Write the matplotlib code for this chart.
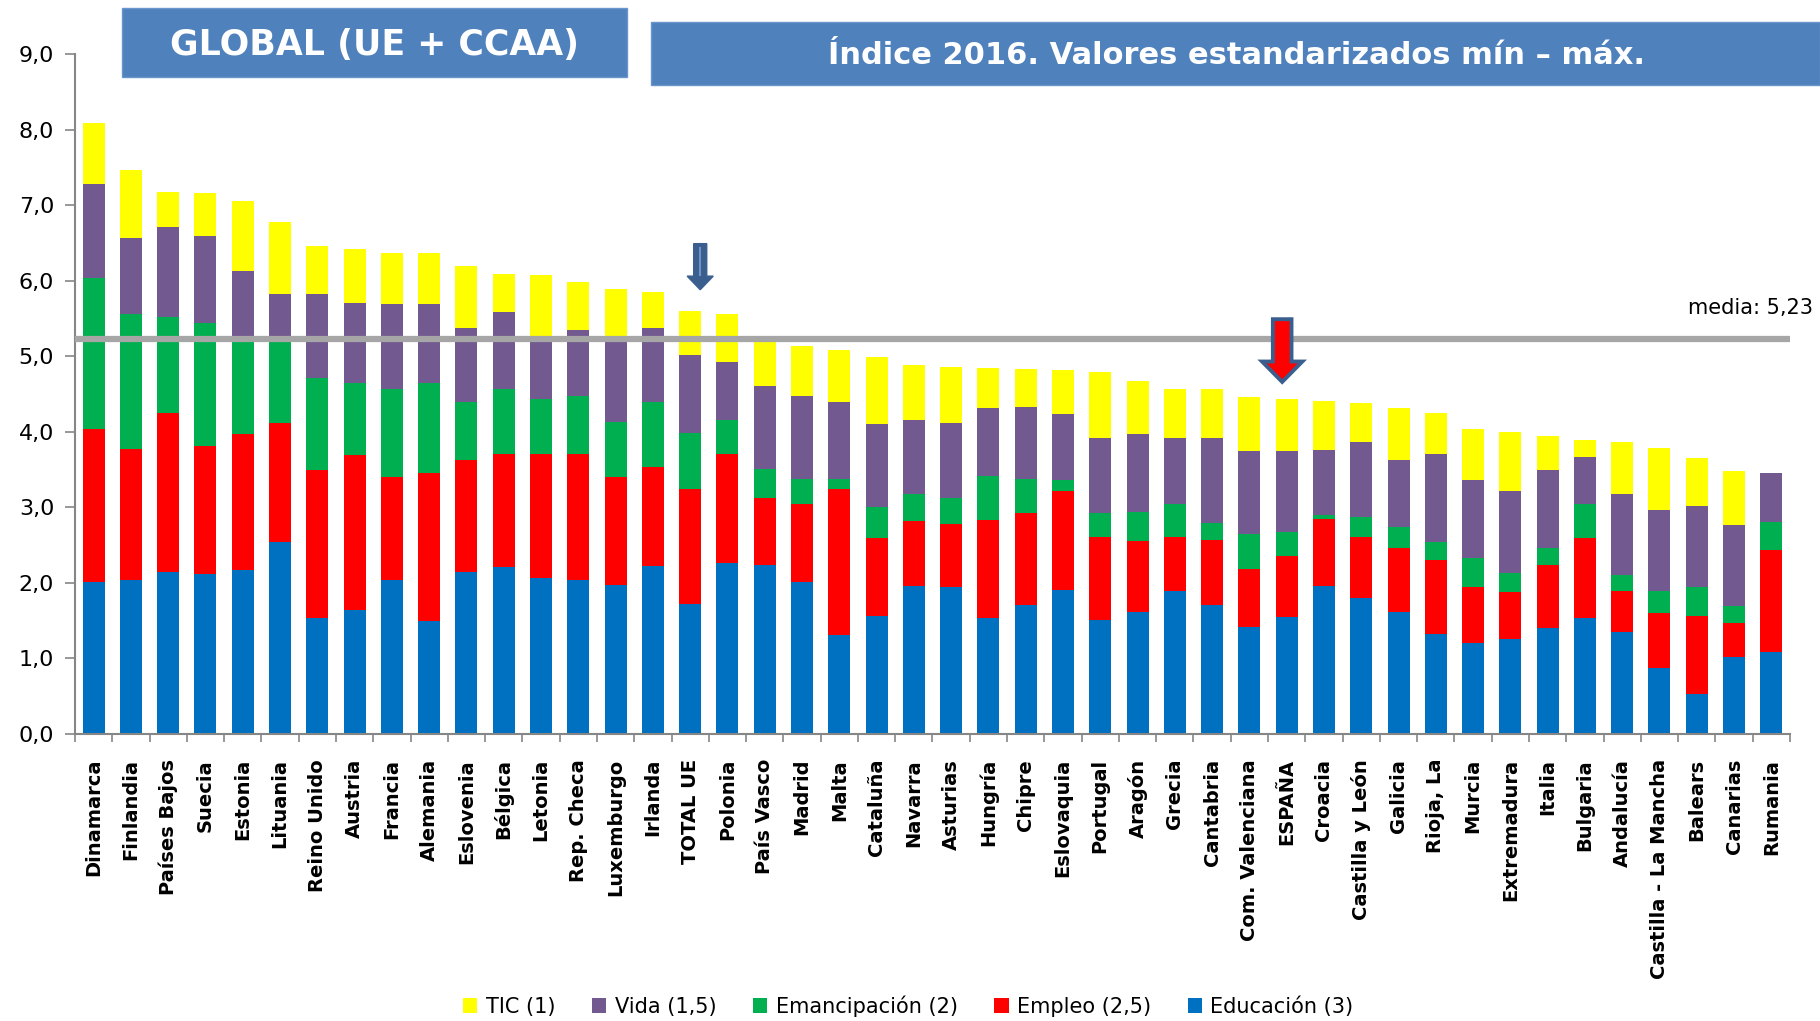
#!/usr/bin/env python3
"""Indice 2016 - stacked bars, UE countries + Spanish regions (CCAA)."""

import matplotlib
matplotlib.use("Agg")
import matplotlib.pyplot as plt
from matplotlib.patches import Rectangle, FancyArrow, Patch
from matplotlib.ticker import FuncFormatter, MultipleLocator
import numpy as np

categories = [
    "Dinamarca", "Finlandia", "Países Bajos", "Suecia", "Estonia", "Lituania",
    "Reino Unido", "Austria", "Francia", "Alemania", "Eslovenia", "Bélgica",
    "Letonia", "Rep. Checa", "Luxemburgo", "Irlanda", "TOTAL UE", "Polonia",
    "País Vasco", "Madrid", "Malta", "Cataluña", "Navarra", "Asturias",
    "Hungría", "Chipre", "Eslovaquia", "Portugal", "Aragón", "Grecia",
    "Cantabria", "Com. Valenciana", "ESPAÑA", "Croacia", "Castilla y León",
    "Galicia", "Rioja, La", "Murcia", "Extremadura", "Italia", "Bulgaria",
    "Andalucía", "Castilla - La Mancha", "Balears", "Canarias", "Rumania",
]

educacion = [2.01, 2.04, 2.15, 2.12, 2.17, 2.54, 1.54, 1.64, 2.04, 1.50, 2.15, 2.21,
             2.06, 2.04, 1.97, 2.22, 1.72, 2.26, 2.24, 2.01, 1.31, 1.56, 1.96, 1.94,
             1.54, 1.71, 1.90, 1.51, 1.61, 1.89, 1.71, 1.42, 1.55, 1.96, 1.80, 1.62,
             1.32, 1.21, 1.26, 1.40, 1.53, 1.35, 0.88, 0.53, 1.02, 1.08]
empleo = [2.03, 1.73, 2.10, 1.69, 1.80, 1.57, 1.95, 2.05, 1.36, 1.96, 1.47, 1.49,
          1.65, 1.66, 1.43, 1.32, 1.52, 1.45, 0.88, 1.04, 1.93, 1.04, 0.86, 0.84,
          1.29, 1.22, 1.31, 1.10, 0.95, 0.72, 0.86, 0.77, 0.80, 0.89, 0.81, 0.84,
          0.98, 0.73, 0.62, 0.84, 1.07, 0.54, 0.72, 1.03, 0.45, 1.36]
emancipacion = [2.00, 1.79, 1.27, 1.63, 1.25, 1.11, 1.22, 0.96, 1.16, 1.19, 0.78, 0.86,
                0.73, 0.78, 0.73, 0.86, 0.75, 0.44, 0.39, 0.32, 0.13, 0.41, 0.35, 0.35,
                0.59, 0.44, 0.15, 0.32, 0.38, 0.44, 0.22, 0.46, 0.32, 0.05, 0.26, 0.28,
                0.24, 0.39, 0.25, 0.22, 0.44, 0.22, 0.29, 0.38, 0.22, 0.37]
vida = [1.24, 1.00, 1.19, 1.15, 0.91, 0.60, 1.12, 1.06, 1.13, 1.04, 0.98, 1.02,
        0.81, 0.87, 1.12, 0.98, 1.02, 0.78, 1.10, 1.10, 1.02, 1.09, 0.98, 0.99,
        0.89, 0.96, 0.87, 0.99, 1.03, 0.87, 1.13, 1.10, 1.07, 0.86, 1.00, 0.89,
        1.17, 1.03, 1.09, 1.04, 0.63, 1.07, 1.07, 1.08, 1.07, 0.64]
tic = [0.81, 0.91, 0.46, 0.57, 0.92, 0.95, 0.63, 0.71, 0.68, 0.67, 0.81, 0.51,
       0.83, 0.63, 0.64, 0.47, 0.59, 0.63, 0.58, 0.67, 0.69, 0.89, 0.74, 0.74,
       0.54, 0.50, 0.59, 0.87, 0.70, 0.64, 0.64, 0.71, 0.70, 0.65, 0.51, 0.69,
       0.54, 0.68, 0.78, 0.45, 0.22, 0.69, 0.82, 0.63, 0.72, 0.00]

series_labels = ["Educación (3)", "Empleo (2,5)", "Emancipación (2)", "Vida (1,5)", "TIC (1)"]
series_colors = ["#0070C0", "#FF0000", "#00B050", "#725990", "#FFFF00"]
media = 5.23

fig = plt.figure(figsize=(18.2, 10.21), dpi=100)
ax = fig.add_axes([0.0412, 0.2811, 0.9423, 0.666])

x = np.arange(len(categories))
bottom = np.zeros(len(categories))
for vals, col in zip([educacion, empleo, emancipacion, vida, tic], series_colors):
    ax.bar(x, vals, width=0.59, bottom=bottom, color=col, linewidth=0, zorder=2)
    bottom += np.array(vals)

ax.axhline(media, color="#A6A6A6", lw=4.5, zorder=3)
ax.text(len(categories) + 0.12, media + 0.41, f"media: {media:.2f}".replace(".", ","),
        ha="right", va="center", fontsize=15, color="black", clip_on=False)

ax.set_xlim(-0.5, len(categories) - 0.5)
ax.set_ylim(0, 9)
ax.yaxis.set_major_locator(MultipleLocator(1))
ax.yaxis.set_major_formatter(FuncFormatter(lambda v, p: f"{v:.1f}".replace(".", ",")))
ax.tick_params(axis="y", labelsize=16, length=7, width=1.2, color="#868686", pad=8)

ax.set_xticks(x)
ax.set_xticklabels(categories, rotation=90, fontsize=14, fontweight="bold")
ax.set_xticks(np.arange(-0.5, len(categories)), minor=True)
ax.tick_params(axis="x", which="major", length=0, pad=18)
ax.tick_params(axis="x", which="minor", length=6, width=1.2, color="#868686")

for s in ["top", "right"]:
    ax.spines[s].set_visible(False)
for s in ["left", "bottom"]:
    ax.spines[s].set_color("#868686")
    ax.spines[s].set_linewidth(1.5)

# arrow over TOTAL UE (drawn a little right of the bar centre, as in the original)
i_ue = categories.index("TOTAL UE") + 0.27
ax.add_patch(FancyArrow(i_ue, 6.49, 0, -0.61, width=0.35, head_width=0.70,
                        head_length=0.18, length_includes_head=True,
                        color="#3A5F8F", zorder=4))
ax.plot([i_ue, i_ue], [6.43, 6.08], color="#6F93C6", lw=1.5, zorder=5)

# arrow over ESPAÑA
i_es = categories.index("ESPAÑA") - 0.12
ax.add_patch(FancyArrow(i_es, 5.49, 0, -0.83, width=0.50, head_width=1.08,
                        head_length=0.27, length_includes_head=True,
                        facecolor="#FF0000", edgecolor="#3A5F8F", lw=2.8, zorder=4))

# title boxes
fig.patches.append(Rectangle((122 / 1820, 1 - 77 / 1021), 505 / 1820, 69 / 1021,
                             transform=fig.transFigure, facecolor="#4F81BD",
                             edgecolor="#6A96CC", lw=1))
fig.text(374 / 1820, 1 - 45 / 1021, "GLOBAL (UE + CCAA)", ha="center", va="center",
         fontsize=25, fontweight="bold", color="white")
fig.patches.append(Rectangle((651 / 1820, 1 - 85 / 1021), 1169 / 1820, 63 / 1021,
                             transform=fig.transFigure, facecolor="#4F81BD",
                             edgecolor="#6A96CC", lw=1))
fig.text(1236 / 1820, 1 - 56 / 1021, "Índice 2016. Valores estandarizados mín – máx.",
         ha="center", va="center", fontsize=22, fontweight="bold", color="white")

handles = [Patch(facecolor=c, label=l) for c, l in zip(series_colors, series_labels)][::-1]
fig.legend(handles=handles, loc="center", bbox_to_anchor=(0.499, 1 - 1006 / 1021),
           ncol=5, frameon=False, fontsize=15, handlelength=0.7, handleheight=0.7,
           handletextpad=0.4, columnspacing=1.75)

fig.savefig("out.png", dpi=100)
